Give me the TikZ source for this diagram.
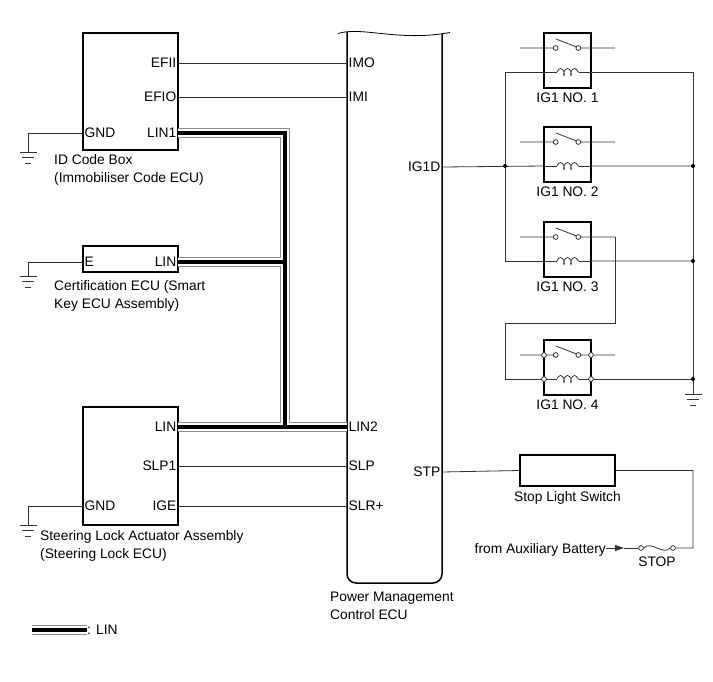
\documentclass[tikz,border=0pt]{standalone}
\usepackage{fontspec}
\setmainfont{Liberation Sans}
\usetikzlibrary{arrows.meta}
\usetikzlibrary{positioning}
\usetikzlibrary{decorations.pathmorphing}

% ground symbol at a named coordinate
\newcommand{\earth}[1]{\draw[wire,shift={(#1)}] (-8.5,0) -- (8.5,0) (-6,5.5) -- (6,5.5) (-3,11) -- (3,11);}
% relay: name, top edge, label
\newcommand{\relay}[3]{%
	\node[relaybox] (#1) at (567.5,#2+27.5) {};
	\node[below=4pt of #1,inner sep=0pt] (#1-lbl) {#3};
	\coordinate (#1-in) at (520,#2+15);
	\coordinate (#1-out) at (615,#2+15);
	\coordinate (#1-sl) at (544,#2+15);
	\coordinate (#1-sr) at (591,#2+15);
	\coordinate (#1-kl) at (544,#2+39);
	\coordinate (#1-kr) at (591,#2+39);
	\node[contact] (#1-a) at (555.7,#2+15) {};
	\node[contact] (#1-b) at (578.3,#2+15) {};
	\draw[wire] (#1-in) -- (#1-a) (#1-b) -- (#1-out) (556,#2+6) -- (576.5,#2+14);
	\draw[wire] (#1-kl) -- (557,#2+39);
	\draw[wire,coil] (557,#2+39) -- (579,#2+39);
	\draw[wire] (579,#2+39) -- (#1-kr);
}

\begin{document}
\begin{tikzpicture}[x=1pt,y=-1pt,font=\fontsize{13.8}{18}\selectfont,
	>={Triangle[length=9pt,width=6pt]},
	wire/.style={draw=black!80,line width=0.8pt},
	box/.style={draw,line width=1.5pt,inner sep=0pt,minimum width=95pt},
	relaybox/.style={draw,line width=1.5pt,inner sep=0pt,minimum width=47pt,minimum height=55pt},
	pin/.style={inner sep=1.5pt},
	caption/.style={inner sep=0pt,align=left,anchor=north west},
	contact/.style={circle,draw=black!80,line width=0.8pt,fill=white,inner sep=0pt,minimum size=4.8pt},
	dot/.style={circle,fill=black,inner sep=0pt,minimum size=4pt},
	coil/.style={decorate,decoration={coil,amplitude=3.5pt,segment length=7pt,aspect=0.5}},
	linbus/.style={draw=black!45,line width=9.5pt,postaction={draw=white,line width=7.5pt},postaction={draw=black,line width=4.5pt}},
	ecu/.style={draw,line width=1.5pt,rounded corners=9pt}]
	\useasboundingbox (0,0) rectangle (713,681);

	% ECUs on the left
	\node[box,minimum height=117pt] (idbox) at (130.5,91.5) {};
	\node[box,minimum height=26pt] (certecu) at (130.5,259) {};
	\node[box,minimum height=118pt] (slecu) at (130.5,466) {};
	\node[pin,anchor=east] (efii) at (178,63) {EFII};
	\node[pin,anchor=east] (efio) at (178,97) {EFIO};
	\node[pin,anchor=east] (lin1) at (178,133) {LIN1};
	\node[pin,anchor=west] (gnd1) at (83,133) {GND};
	\node[pin,anchor=east] (certlin) at (178,262) {LIN};
	\node[pin,anchor=west] (certe) at (83,262) {E};
	\node[pin,anchor=east] (sllin) at (178,427) {LIN};
	\node[pin,anchor=east] (slp1) at (178,466) {SLP1};
	\node[pin,anchor=east] (ige) at (178,506) {IGE};
	\node[pin,anchor=west] (gnd3) at (83,506) {GND};
	\node[caption] (idcap) at (54,154.5) {ID Code Box\\(Immobiliser Code ECU)};
	\node[caption] (certcap) at (54,280.5) {Certification ECU (Smart\\Key ECU Assembly)};
	\node[caption] (slcap) at (40,530.5) {Steering Lock Actuator Assembly\\(Steering Lock ECU)};

	% Power Management Control ECU
	\draw[ecu] (347,32) -- (347,583) -- (442,583) -- (442,34);
	\draw[line width=0.8pt] (338,33.5) .. controls (362,26) and (398,42) .. (450,32.5);
	\node[pin,anchor=west] (imo) at (347,63) {IMO};
	\node[pin,anchor=west] (imi) at (347,97) {IMI};
	\node[pin,anchor=east] (ig1d) at (442,167) {IG1D};
	\node[pin,anchor=west] (lin2) at (347,427) {LIN2};
	\node[pin,anchor=west] (slp) at (347,466) {SLP};
	\node[pin,anchor=east] (stp) at (442,472) {STP};
	\node[pin,anchor=west] (slr) at (347,506) {SLR+};
	\node[caption] (pmecu) at (330,591.5) {Power Management\\Control ECU};

	% grounds
	\coordinate (g1) at (28,152);
	\coordinate (g2) at (28,276);
	\coordinate (g3) at (28,525);
	\coordinate (g4) at (693,394);
	\draw[wire] (gnd1.west) -| (g1) (certe.west) -| (g2) (gnd3.west) -| (g3);
	\earth{g1} \earth{g2} \earth{g3} \earth{g4}

	% signal lines
	\draw[wire] (efii.east) -- (imo.west) (efio.east) -- (imi.west)
		(slp1.east) -- (slp.west) (ige.east) -- (slr.west);

	% LIN bus
	\coordinate (jt) at (285,133);
	\coordinate (jb) at (285,427);
	\path[linbus] (lin1.east) -- (jt) -- (jb) (certlin.east) -- (certlin.east -| jt) (sllin.east) -- (lin2.west);

	% IG1 relays
	\relay{no1}{33}{IG1 NO. 1}
	\relay{no2}{127}{IG1 NO. 2}
	\relay{no3}{222}{IG1 NO. 3}
	\relay{no4}{340}{IG1 NO. 4}
	\coordinate (lv) at (505,72);
	\coordinate (rv) at (693,72);
	\coordinate (k1) at (505,323);
	\draw[wire] (no1-kl) -- (lv) -- (lv |- no3-kl) -- (no3-kl);
	\draw[wire] (no1-kr) -- (rv) -- (g4);
	\draw[wire] (ig1d.east) -- (no2-kl) (no2-kr) -- (rv |- no2-kr) (no3-kr) -- (rv |- no3-kr);
	\draw[wire] (no3-out) |- (k1) |- (no4-kl) (no4-kr) -- (rv |- no4-kr);
	\foreach \p in {sl,sr,kl,kr}
		\node[contact] (no4-t\p) at (no4-\p) {};
	\node[dot] (d1) at (lv |- no2-kl) {};
	\node[dot] (d2) at (rv |- no2-kr) {};
	\node[dot] (d3) at (rv |- no3-kr) {};
	\node[dot] (d4) at (rv |- no4-kr) {};

	% stop light circuit
	\node[box,minimum height=31pt] (stopsw) at (567.5,470.5) {};
	\node[below=5pt of stopsw,inner sep=0pt] (stopcap) {Stop Light Switch};
	\node[contact] (fl) at (641,548) {};
	\node[contact] (fr) at (673,548) {};
	\node[inner sep=0pt] (stopfuse) at (657,562) {STOP};
	\node[inner sep=0pt,anchor=east] (batt) at (606,550) {from Auxiliary Battery};
	\coordinate (sc) at (693,548);
	\coordinate (tip) at (624,548);
	\draw[wire] (stp.east) -- (stopsw.west) (stopsw.east) -| (sc) -- (fr);
	\draw[wire,->] (batt.east |- tip) -- (tip);
	\draw[wire] (tip) -- (fl);
	\draw[wire] (fl.east) .. controls (651,540) and (663,556) .. (fr.west);

	% legend
	\coordinate (leg) at (32,630);
	\node[inner sep=0pt,anchor=west] (legtxt) at (87,630) {: LIN};
	\path[linbus] (leg) -- (legtxt.west);
\end{tikzpicture}
\end{document}
